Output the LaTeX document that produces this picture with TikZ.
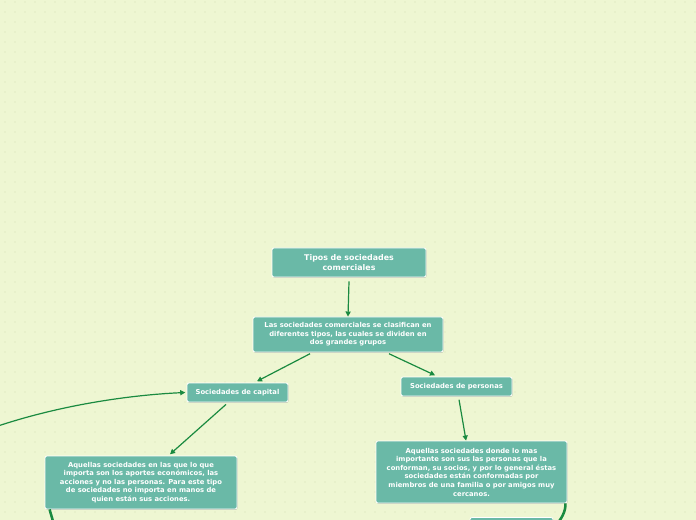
\documentclass[tikz,border=0pt]{standalone}
\usepackage{fontspec}
\setmainfont{DejaVu Sans}
\usetikzlibrary{arrows.meta,shadows}
\definecolor{bgc}{RGB}{238,246,210}
\definecolor{dotc}{RGB}{224,234,194}
\definecolor{nodec}{RGB}{106,185,167}
\definecolor{linkc}{RGB}{26,138,64}
\tikzset{
  topic/.style={draw=white, line width=0.6pt, fill=nodec, rounded corners=1.5pt,
    text=white, align=center, inner sep=0pt, font=\bfseries\fontsize{5.1}{6.45}\selectfont,
    drop shadow={shadow xshift=0.4pt, shadow yshift=-0.6pt, opacity=0.35, fill=black!60}},
  title/.style={topic, font=\bfseries\fontsize{5.9}{7.1}\selectfont},
  link/.style={draw=linkc, line width=0.9pt, -{Triangle[length=3.8pt,width=3.8pt]}},
  thick link/.style={draw=linkc, line width=1.9pt}
}
\begin{document}
\begin{tikzpicture}[x=0.75pt,y=-0.75pt]
\useasboundingbox (0,0) rectangle (696,520);
\clip (0,0) rectangle (696,520);
\fill[bgc] (0,0) rectangle (696,520);
\foreach \i in {0,...,69} {
  \foreach \j in {0,...,51} {
    \fill[dotc] (5+10*\i, 2+10*\j) circle (0.6pt);
  }
}
\node[title, minimum width=115.5pt, minimum height=21.75pt] (n1) at (349,262.5)
  {Tipos de sociedades\\comerciales};
\node[topic, minimum width=142.5pt, minimum height=26.25pt] (n2) at (348,334.5)
  {Las sociedades comerciales se clasifican en\\diferentes tipos, las cuales se dividen en\\dos grandes grupos};
\node[topic, minimum width=75.75pt, minimum height=14.25pt] (n3) at (237.5,392.5)
  {Sociedades de capital};
\node[topic, minimum width=83.25pt, minimum height=14.25pt] (n4) at (456.5,386.5)
  {Sociedades de personas};
\node[topic, minimum width=144pt, minimum height=39.75pt] (n5) at (141,482.5)
  {Aquellas sociedades en las que lo que\\importa son los aportes económicos, las\\acciones y no las personas. Para este tipo\\de sociedades no importa en manos de\\quien están sus acciones.};
\node[topic, minimum width=143.25pt, minimum height=46.5pt] (n6) at (471.5,472)
  {Aquellas sociedades donde lo mas\\importante son sus las personas que la\\conforman, su socios, y por lo general éstas\\sociedades están conformadas por\\miembros de una familia o por amigos muy\\cercanos.};
\node[topic, minimum width=62.25pt, minimum height=14.25pt] (n7) at (511.5,527) {};
\coordinate (L) at (-5,427);
\coordinate (B) at (54,526);
\draw[link] ([yshift=-3pt]n1.south) -- (n2.north);
\draw[link] ([xshift=-28.5pt,yshift=-1pt]n2.south) -- ([xshift=14.6pt,yshift=1pt]n3.north);
\draw[link] ([xshift=30.75pt,yshift=-1pt]n2.south) -- ([xshift=-16.1pt,yshift=1pt]n4.north);
\draw[link] ([xshift=-8.6pt,yshift=-1.5pt]n3.south) -- ([xshift=21.75pt,yshift=1pt]n5.north);
\draw[link] ([xshift=1.9pt,yshift=-2.5pt]n4.south) -- ([xshift=-4.1pt]n6.north);
\draw[link] (L) .. controls (60,405) and (130,395) .. ([xshift=-1pt]n3.west);
\draw[thick link] ([xshift=3.75pt]n5.south west) .. controls (51,515) and (53,520) .. (B);
\draw[thick link] ([xshift=-1.5pt]n6.south east) .. controls (566,510) and (562,520) .. (n7.east);
\end{tikzpicture}
\end{document}
